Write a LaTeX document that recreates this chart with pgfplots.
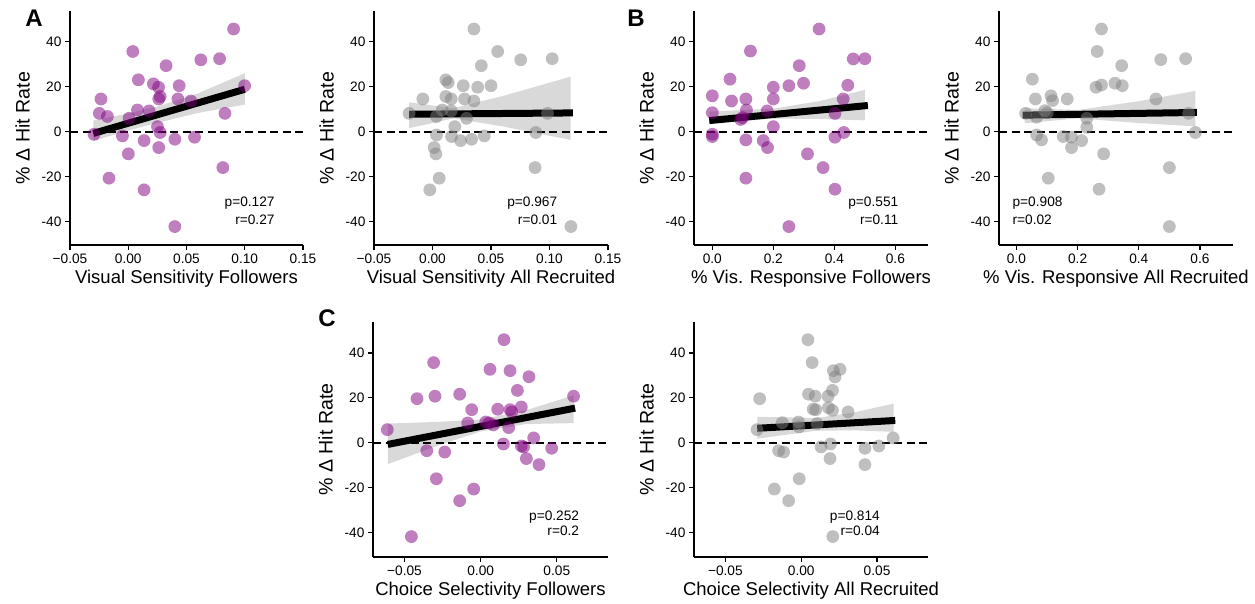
\documentclass[border=0pt]{standalone}
\usepackage{pgfplots}
\pgfplotsset{compat=1.18}
\usepackage{pgfplotstable}
\usepgfplotslibrary{fillbetween}
\usepackage{fontspec}
\setmainfont{Liberation Sans}
\definecolor{vpurple}{HTML}{800080}
\definecolor{vgray}{HTML}{808080}
\newcommand\tickfont{\fontsize{13.7}{16}\selectfont}
\newcommand\labelfont{\fontsize{18.5}{22}\selectfont}
\newcommand\ylabelfont{\fontsize{19.6}{22}\selectfont}
\newcommand\letterfont{\bfseries\fontsize{24}{28}\selectfont}

\pgfplotstableread{
x y
0.0904 45.6
0.0039 35.6
0.0325 29.3
0.0623 31.9
0.0784 32.4
0.0087 23.0
0.0216 21.2
0.0260 19.7
0.0437 20.4
0.0999 20.4
-0.0234 14.5
0.0274 15.6
0.0262 14.5
0.0426 14.5
0.0537 13.6
-0.0248 8.1
-0.0179 6.7
0.0079 9.6
0.0179 9.2
0.0007 5.9
0.0830 8.1
-0.0294 -1.2
-0.0050 -1.9
0.0251 2.2
0.0274 -0.4
0.0136 -4.0
0.0400 -3.4
0.0569 -2.5
0.0262 -7.1
0.0001 -9.9
0.0812 -16.0
-0.0165 -20.7
0.0136 -25.9
0.0400 -42.2
}\dataA

\pgfplotstableread{
x y
0.0354 45.6
0.0557 35.6
0.0417 29.3
0.0754 31.9
0.1023 32.4
0.0114 23.0
0.0134 21.8
0.0263 20.4
0.0386 19.7
0.0500 20.4
-0.0083 14.5
0.0114 15.6
0.0160 14.5
0.0274 14.5
0.0354 13.6
-0.0200 8.1
0.0083 9.6
0.0160 9.2
0.0034 6.7
0.0291 5.9
0.0983 8.1
0.0191 2.2
0.0034 -1.5
0.0163 -2.2
0.0240 -4.0
0.0334 -3.4
0.0443 -1.9
0.0883 -0.4
0.0014 -7.1
0.0029 -9.9
0.0877 -16.0
0.0057 -20.7
-0.0023 -25.9
0.1183 -42.2
}\dataAii

\pgfplotstableread{
x y
0.350 45.6
0.125 35.8
0.285 29.3
0.462 32.3
0.500 32.4
0.058 23.3
0.251 20.4
0.299 21.5
0.200 19.7
0.444 20.6
0.000 15.9
0.063 13.6
0.110 14.5
0.200 14.5
0.429 14.5
0.000 8.4
0.112 9.6
0.180 9.2
0.099 6.2
0.093 5.4
0.402 8.1
0.200 2.2
0.000 -1.2
0.000 -2.2
0.110 -3.7
0.167 -4.0
0.181 -7.1
0.402 -2.5
0.431 -0.4
0.312 -9.9
0.363 -16.0
0.110 -20.7
0.402 -25.6
0.251 -42.2
}\dataB

\pgfplotstableread{
x y
0.278 45.6
0.264 35.6
0.344 29.3
0.472 32.0
0.553 32.4
0.052 23.3
0.260 19.7
0.278 20.7
0.322 21.5
0.346 20.4
0.062 14.5
0.113 15.9
0.118 13.8
0.166 14.5
0.456 14.5
0.030 8.1
0.093 9.3
0.101 8.4
0.066 6.4
0.563 8.1
0.230 5.9
0.230 1.9
0.066 -1.5
0.082 -3.7
0.153 -2.2
0.180 -2.5
0.213 -4.0
0.180 -7.1
0.585 -0.4
0.285 -9.9
0.500 -16.0
0.104 -20.7
0.270 -25.6
0.500 -42.2
}\dataBii

\pgfplotstableread{
x y
0.0153 45.9
-0.0309 35.7
0.0061 32.7
0.0193 32.1
0.0317 29.4
0.0241 23.3
-0.0418 19.6
-0.0300 20.7
-0.0138 21.6
0.0610 20.7
-0.0059 14.7
0.0112 14.9
0.0193 14.7
0.0204 13.7
0.0267 15.9
-0.0613 5.8
-0.0085 8.8
0.0033 9.2
0.0055 8.8
0.0083 7.9
0.0184 6.7
0.0348 2.1
0.0149 -0.6
0.0267 -1.5
0.0282 -1.9
0.0466 -2.5
-0.0354 -3.6
-0.0236 -4.2
0.0300 -7.1
0.0383 -9.8
-0.0291 -16.1
-0.0046 -20.7
-0.0138 -25.9
-0.0455 -41.9
}\dataC

\pgfplotstableread{
x y
0.0044 45.9
0.0072 35.7
0.0212 32.1
0.0256 32.7
0.0223 29.3
0.0206 23.3
-0.0274 19.6
0.0048 21.6
0.0092 20.7
0.0177 20.7
0.0079 14.9
0.0096 14.7
0.0179 15.6
0.0206 14.4
0.0309 13.7
-0.0291 5.8
-0.0125 8.9
-0.0018 9.2
-0.0015 7.0
0.0105 8.5
0.0606 2.1
0.0131 -1.9
0.0193 -0.6
0.0420 -2.5
0.0512 -1.5
-0.0149 -3.6
-0.0116 -4.2
0.0190 -7.1
0.0420 -9.8
-0.0013 -16.1
-0.0177 -20.7
-0.0083 -25.9
0.0208 -41.9
}\dataCii

\pgfplotsset{
  panel/.style={
    scale only axis, width=234pt, height=234pt,
    axis x line*=bottom, axis y line*=left,
    axis line style={-, line width=1.4pt},
    tick style={line width=1.3pt, black},
    tick align=outside, major tick length=5pt,
    scaled x ticks=false, scaled y ticks=false,
    ymin=-50.4, ymax=53.6,
    ytick={-40,-20,0,20,40}, yticklabels={-40,-20,0,20,40},
    ylabel={\% Δ Hit Rate},
    xlabel style={font=\labelfont},
    ylabel style={font=\ylabelfont},
    ylabel shift=5pt,
    tick label style={font=\tickfont},
    anchor=south west,
  },
  sc/.style={only marks, mark=*, mark size=6.4pt, mark options={draw opacity=0, fill=#1, fill opacity=0.5}},
  reg/.style={black, line width=7pt},
  zero/.style={black, line width=2pt, dash pattern=on 8pt off 4.5pt},
  band/.style={draw=none, fill=black, fill opacity=0.15},
}

\begin{document}
\begin{tikzpicture}
\path (0,0) rectangle (1255pt,603pt);

% Panel A
\begin{axis}[panel, at={(70pt,358pt)}, width=233pt,
  xmin=-0.05, xmax=0.15, xtick={-0.05,0,0.05,0.1,0.15},
  xticklabels={−0.05,0.00,0.05,0.10,0.15},
  xlabel={Visual Sensitivity Followers}]
\addplot[sc=vpurple] table {\dataA};
\addplot[name path=up, draw=none] coordinates {(-0.03,4.9) (0.0,8.1) (0.025,11.1) (0.06,17.0) (0.10,25.9)};
\addplot[name path=lo, draw=none] coordinates {(-0.03,-4.2) (0.0,0.5) (0.025,3.9) (0.06,8.3) (0.10,12.0)};
\addplot[band] fill between[of=up and lo];
\addplot[reg] coordinates {(-0.03,-0.8) (0.10,18.8)};
\addplot[zero] coordinates {(-0.05,0) (0.15,0)};
\node[font=\tickfont, anchor=east] at (rel axis cs:0.893,0.179) {p=0.127};
\node[font=\tickfont, anchor=east] at (rel axis cs:0.893,0.107) {r=0.27};
\end{axis}

% Panel A ii
\begin{axis}[panel, at={(374pt,358pt)},
  xmin=-0.05, xmax=0.15, xtick={-0.05,0,0.05,0.1,0.15},
  xticklabels={−0.05,0.00,0.05,0.10,0.15},
  xlabel={Visual Sensitivity All Recruited}]
\addplot[sc=vgray] table {\dataAii};
\addplot[name path=up, draw=none] coordinates {(-0.02,13.0) (0.018,10.4) (0.06,15.8) (0.118,24.4)};
\addplot[name path=lo, draw=none] coordinates {(-0.02,1.5) (0.018,5.9) (0.06,2.3) (0.118,-3.7)};
\addplot[band] fill between[of=up and lo];
\addplot[reg] coordinates {(-0.02,7.7) (0.12,8.3)};
\addplot[zero] coordinates {(-0.05,0) (0.15,0)};
\node[font=\tickfont, anchor=east] at (rel axis cs:0.798,0.179) {p=0.967};
\node[font=\tickfont, anchor=east] at (rel axis cs:0.798,0.107) {r=0.01};
\end{axis}

% Panel B
\begin{axis}[panel, at={(694pt,358pt)},
  xmin=-0.06, xmax=0.707, xtick={0,0.2,0.4,0.6},
  xticklabels={0.0,0.2,0.4,0.6},
  xlabel={\% Vis. Responsive Followers}]
\addplot[sc=vpurple] table {\dataB};
\addplot[name path=up, draw=none] coordinates {(-0.01,8.9) (0.2,10.2) (0.35,13.5) (0.50,18.5)};
\addplot[name path=lo, draw=none] coordinates {(-0.01,3.5) (0.2,5.8) (0.35,5.6) (0.50,5.0)};
\addplot[band] fill between[of=up and lo];
\addplot[reg] coordinates {(-0.01,4.9) (0.51,11.6)};
\addplot[zero] coordinates {(-0.06,0) (0.707,0)};
\node[font=\tickfont, anchor=east] at (rel axis cs:0.888,0.179) {p=0.551};
\node[font=\tickfont, anchor=east] at (rel axis cs:0.888,0.107) {r=0.11};
\end{axis}

% Panel B ii
\begin{axis}[panel, at={(999pt,358pt)},
  xmin=-0.057, xmax=0.708, xtick={0,0.2,0.4,0.6},
  xticklabels={0.0,0.2,0.4,0.6},
  xlabel={\% Vis. Responsive All Recruited}]
\addplot[sc=vgray] table {\dataBii};
\addplot[name path=up, draw=none] coordinates {(0.027,10.4) (0.2,9.6) (0.4,13.5) (0.585,18.1)};
\addplot[name path=lo, draw=none] coordinates {(0.027,3.7) (0.2,5.9) (0.4,3.8) (0.585,2.3)};
\addplot[band] fill between[of=up and lo];
\addplot[reg] coordinates {(0.02,7.3) (0.59,8.5)};
\addplot[zero] coordinates {(-0.057,0) (0.708,0)};
\node[font=\tickfont, anchor=west] at (rel axis cs:0.043,0.179) {p=0.908};
\node[font=\tickfont, anchor=west] at (rel axis cs:0.043,0.107) {r=0.02};
\end{axis}

% Panel C
\begin{axis}[panel, at={(373pt,46pt)}, width=235pt, height=235pt,
  ymin=-51.0, ymax=53.8,
  xmin=-0.0707, xmax=0.0836, xtick={-0.05,0,0.05},
  xticklabels={−0.05,0.00,0.05},
  xlabel={Choice Selectivity Followers}]
\addplot[sc=vpurple] table {\dataC};
\addplot[name path=up, draw=none] coordinates {(-0.061,8.5) (-0.03,9.2) (0.0,10.3) (0.03,14.5) (0.061,21.1)};
\addplot[name path=lo, draw=none] coordinates {(-0.061,-9.6) (-0.03,-1.8) (0.0,5.0) (0.03,8.3) (0.061,8.7)};
\addplot[band] fill between[of=up and lo];
\addplot[reg] coordinates {(-0.061,-0.8) (0.062,15.4)};
\addplot[zero] coordinates {(-0.0707,0) (0.0836,0)};
\node[font=\tickfont, anchor=east] at (rel axis cs:0.892,0.171) {p=0.252};
\node[font=\tickfont, anchor=east] at (rel axis cs:0.892,0.111) {r=0.2};
\end{axis}

% Panel C ii
\begin{axis}[panel, at={(694pt,46pt)}, height=235pt,
  ymin=-51.0, ymax=53.8,
  xmin=-0.0707, xmax=0.0836, xtick={-0.05,0,0.05},
  xticklabels={−0.05,0.00,0.05},
  xlabel={Choice Selectivity All Recruited}]
\addplot[sc=vgray] table {\dataCii};
\addplot[name path=up, draw=none] coordinates {(-0.029,11.5) (0.01,11.0) (0.035,13.5) (0.061,17.4)};
\addplot[name path=lo, draw=none] coordinates {(-0.029,1.8) (0.01,5.3) (0.035,5.5) (0.061,4.8)};
\addplot[band] fill between[of=up and lo];
\addplot[reg] coordinates {(-0.029,6.4) (0.062,9.9)};
\addplot[zero] coordinates {(-0.0707,0) (0.0836,0)};
\node[font=\tickfont, anchor=east] at (rel axis cs:0.809,0.171) {p=0.814};
\node[font=\tickfont, anchor=east] at (rel axis cs:0.809,0.111) {r=0.04};
\end{axis}

\node[font=\letterfont] at (34pt,585pt) {A};
\node[font=\letterfont] at (636pt,585pt) {B};
\node[font=\letterfont] at (327pt,285pt) {C};
\end{tikzpicture}
\end{document}
